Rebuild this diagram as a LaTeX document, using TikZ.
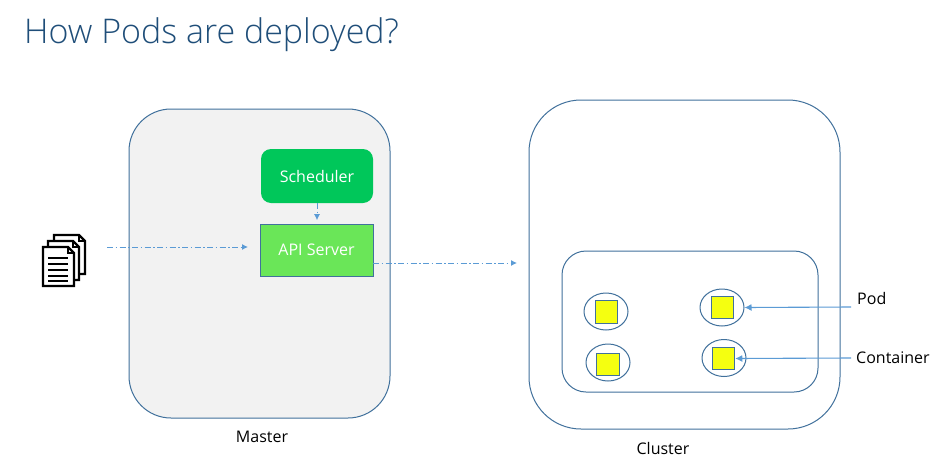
\documentclass[tikz,border=0pt]{standalone}
\usepackage{fontspec}
\setmainfont{Open Sans}
\newfontfamily\titlefont{Open Sans Light}
\usetikzlibrary{arrows.meta,calc,shapes.geometric}
\definecolor{titleblue}{HTML}{1F4E79}
\definecolor{edgeblue}{HTML}{41719C}
\definecolor{linkblue}{HTML}{5B9BD5}
\definecolor{panelgrey}{HTML}{F2F2F2}
\definecolor{schedgreen}{HTML}{00C75A}
\definecolor{apigreen}{HTML}{6AE658}
\definecolor{podyellow}{HTML}{F5FF10}
\tikzset{
  panel/.style={draw=edgeblue,line width=1pt,inner sep=0pt},
  caption/.style={font=\fontsize{16}{18}\selectfont,text=black,inner sep=0pt},
  boxlabel/.style={font=\fontsize{16}{18}\selectfont,text=white,inner sep=0pt},
  podshape/.style={draw=edgeblue,line width=1pt,ellipse,minimum width=44pt,minimum height=37pt,inner sep=0pt},
  contshape/.style={draw=edgeblue,line width=1pt,fill=podyellow,minimum width=22.5pt,minimum height=22.5pt,inner sep=0pt},
  dashlink/.style={draw=linkblue,line width=1pt,dash pattern=on 6pt off 2.5pt on 1.5pt off 2.5pt,-{Latex[length=6pt,width=6pt]}},
  solidlink/.style={draw=linkblue,line width=1.1pt,-{Latex[length=7pt,width=7pt]}},
  sheet/.style={draw=black,line width=2.2pt,fill=white,line join=miter},
}
\newcommand{\sheetat}[2]{%
  \draw[sheet,shift={(#1,#2)}] (0,0) -- (25,0) -- (31,6) -- (31,39) -- (0,39) -- cycle;
  \draw[black,line width=1.4pt,shift={(#1,#2)}] (25,0) -- (25,6) -- (31,6);
}
\begin{document}
\begin{tikzpicture}[x=1pt,y=-1pt]
\useasboundingbox (0,0) rectangle (937,466);
\fill[white] (0,0) rectangle (937,466);
\node[anchor=west,text=titleblue,inner sep=0pt,font=\titlefont\fontsize{34}{38}\selectfont] (title) at (24,35) {How Pods are deployed?};

\node[panel,fill=panelgrey,rounded corners=42pt,minimum width=261pt,minimum height=309pt] (master) at (259.5,263.5) {};
\node[panel,fill=white,rounded corners=52pt,minimum width=311pt,minimum height=329pt] (cluster) at (684.5,264.5) {};
\node[panel,fill=white,rounded corners=24pt,minimum width=256pt,minimum height=141pt] (inner) at (690,321.5) {};

\node[fill=schedgreen,rounded corners=10pt,minimum width=112pt,minimum height=54pt,inner sep=0pt,boxlabel] (sched) at (317,176) {Scheduler};
\node[draw=edgeblue,line width=1pt,fill=apigreen,minimum width=113pt,minimum height=52pt,inner sep=0pt,boxlabel] (api) at (316.5,250) {API Server};

% document stack
\sheetat{54}{235}
\sheetat{48}{241}
\sheetat{43}{247}
\foreach \yy in {258,264,270,276,281}
  \draw[black,line width=1.8pt] (48,\yy) -- (68,\yy);

% pods and containers
\node[podshape] (pa) at (606,311.5) {};
\node[podshape] (pb) at (608,362.5) {};
\node[podshape] (pc) at (722,307.5) {};
\node[podshape] (pd) at (724,358) {};
\node[contshape] (ca) at (606.5,312) {};
\node[contshape] (cb) at (608,364.5) {};
\node[contshape] (cc) at (722.5,307.5) {};
\node[contshape] (cd) at (723.5,358.5) {};

\node[caption,anchor=west] (podlabel) at (857,298) {Pod};
\node[caption,anchor=west] (contlabel) at (856,358) {Container};
\node[caption] (masterlabel) at (262,437) {Master};
\node[caption] (clusterlabel) at (663,448) {Cluster};

\coordinate (docsout) at (107,247);
\coordinate (apiin) at (248,247);
\coordinate (apiout) at (373,263);
\coordinate (clusterin) at (517,263);
\coordinate (podline) at (851,307);
\coordinate (contline) at (851,358);

\draw[dashlink] (docsout) -- (apiin);
\draw[dashlink] (sched.south) -- ++(0,17);
\draw[dashlink] (apiout) -- (clusterin);
\draw[solidlink] (podline) -- (pc.east);
\draw[solidlink] (contline) -- (cd.east);
\end{tikzpicture}
\end{document}
